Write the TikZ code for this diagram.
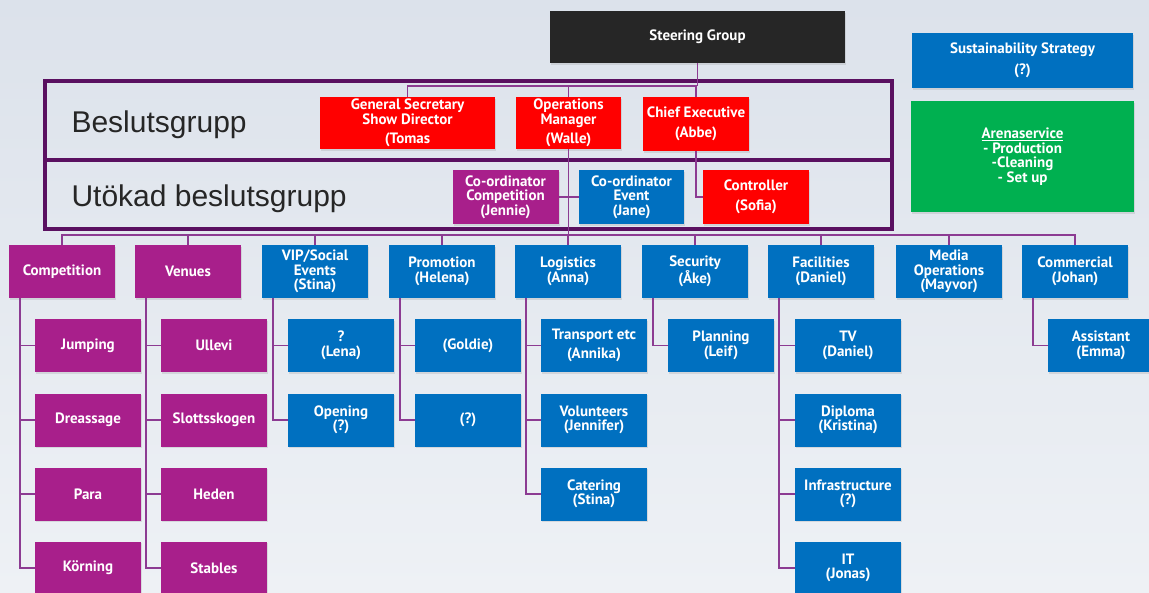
\documentclass[tikz,border=0pt]{standalone}
\usepackage{fontspec}
\setmainfont{Liberation Sans}
\newfontfamily\boxfont{PT Sans}
\usetikzlibrary{positioning,shadows}

\definecolor{bgtop}{HTML}{DCE2EB}
\definecolor{bgbot}{HTML}{EEF1F5}
\definecolor{steerblack}{HTML}{262626}
\definecolor{orgblue}{HTML}{0070C0}
\definecolor{orgpurple}{HTML}{A81F8B}
\definecolor{orgred}{HTML}{FF0000}
\definecolor{orggreen}{HTML}{00B050}
\definecolor{framepurple}{HTML}{5A1060}
\definecolor{linepurple}{HTML}{8C3B92}
\definecolor{labelgray}{HTML}{262626}

\tikzset{
  box/.style={text=white, inner sep=0pt, align=center,
    font=\boxfont\bfseries\fontsize{15}{14.5}\selectfont,
    drop shadow={opacity=0.2, shadow xshift=1pt, shadow yshift=-1.5pt}},
  unit/.style={box, minimum width=106pt, minimum height=53pt},
  blueunit/.style={unit, fill=orgblue},
  purpleunit/.style={unit, fill=orgpurple},
  redunit/.style={unit, fill=orgred},
  conn/.style={draw=linepurple, line width=1.4pt},
  grouplabel/.style={anchor=west, text=labelgray, font=\fontsize{30}{34}\selectfont}
}

\begin{document}
\begin{tikzpicture}[x=1pt, y=-1pt]
    % Background
    \clip (0,0) rectangle (1149,592);
    \fill[top color=bgtop, bottom color=bgbot] (0,0) rectangle (1149,592);

    % Decision groups
    \draw[framepurple, line width=4pt] (45,81) rectangle (892,160);
    \draw[framepurple, line width=4pt] (45,160) rectangle (892,229);
    \node[grouplabel] (beslut) at (68,125) {Beslutsgrupp};
    \node[grouplabel] (utokad) at (68,199) {Utökad beslutsgrupp};

    % Top level
    \node[box, fill=steerblack, minimum width=295pt, minimum height=52pt] (steer) at (697.5,37) {Steering Group};
    \node[box, fill=orgblue, minimum width=221pt, minimum height=55pt] (sust) at (1022.5,60.5) {Sustainability Strategy\\[6pt](?)};
    \node[box, fill=orggreen, minimum width=223pt, minimum height=111pt] (arena) at (1022.5,156.5) {\underline{Arenaservice}\\- Production\\-Cleaning\\- Set up};

    \node[redunit, minimum width=175pt, minimum height=52pt] (gensec) at (407.5,123) {General Secretary\\Show Director\\[5pt](Tomas};
    \node[redunit, minimum width=105pt, minimum height=52pt] (ops) at (568.5,123) {Operations\\Manager\\[5pt](Walle)};
    \node[redunit, minimum height=54pt] (chief) at (696,124) {Chief Executive\\[6pt](Abbe)};

    \node[purpleunit, minimum height=54pt] (coordcomp) at (505.5,197) {Co-ordinator\\Competition\\(Jennie)};
    \node[blueunit, minimum width=105pt, minimum height=54pt] (coordevent) at (631.5,197) {Co-ordinator\\Event\\(Jane)};
    \node[redunit, minimum height=54pt] (controller) at (756,197) {Controller\\[6pt](Sofia)};

    % Top connectors
    \coordinate (topbar) at (407.5,86);
    \draw[conn] (steer.south) -- (steer.south |- topbar);
    \draw[conn] (gensec.north) |- (chief.north |- topbar) -- (chief.north);
    \draw[conn] (ops.north) -- (ops.north |- topbar);
    \draw[conn] (chief.south) |- (controller.west);
    \draw[conn] (coordcomp.east) -- (coordevent.west);

    % Functions
    \node[purpleunit] (comp) at (62,271.5) {Competition};
    \node[purpleunit] (venues) at (188,271.5) {Venues};
    \node[blueunit] (vip) at (315,271.5) {VIP/Social\\Events\\(Stina)};
    \node[blueunit] (promo) at (442,271.5) {Promotion\\(Helena)};
    \node[blueunit] (logist) at (568,271.5) {Logistics\\(Anna)};
    \node[blueunit] (secur) at (695,271.5) {Security\\(Åke)};
    \node[blueunit] (facil) at (821,271.5) {Facilities\\(Daniel)};
    \node[blueunit] (media) at (949,271.5) {Media\\Operations\\(Mayvor)};
    \node[blueunit] (commerc) at (1075,271.5) {Commercial\\(Johan)};

    % Bus
    \coordinate (bus) at (62,235);
    \draw[conn] (ops.south) -- (ops.south |- bus);
    \draw[conn] (comp.north) |- (commerc.north |- bus) -- (commerc.north);
    \foreach \f in {venues,vip,promo,logist,secur,facil,media}
        \draw[conn] (\f.north) -- (\f.north |- bus);

    % Sub units
    \node[purpleunit] (jump) at (88,345.5) {Jumping};
    \node[purpleunit] (dress) at (88,420) {Dreassage};
    \node[purpleunit] (para) at (88,494) {Para};
    \node[purpleunit] (korn) at (88,568) {Körning};

    \node[purpleunit] (ullevi) at (214,345.5) {Ullevi};
    \node[purpleunit] (slott) at (214,420) {Slottsskogen};
    \node[purpleunit] (heden) at (214,494) {Heden};
    \node[purpleunit] (stables) at (214,568) {Stables};

    \node[blueunit] (lena) at (341,345.5) {?\\(Lena)};
    \node[blueunit] (opening) at (341,420) {Opening\\(?)};

    \node[blueunit] (goldie) at (468,345.5) {(Goldie)};
    \node[blueunit] (promoq) at (468,420) {(?)};

    \node[blueunit] (transp) at (594,345.5) {Transport etc\\[4pt](Annika)};
    \node[blueunit] (volunt) at (594,420) {Volunteers\\(Jennifer)};
    \node[blueunit] (cater) at (594,494) {Catering\\(Stina)};

    \node[blueunit] (plan) at (721,345.5) {Planning\\(Leif)};

    \node[blueunit] (tv) at (848,345.5) {TV\\(Daniel)};
    \node[blueunit] (diploma) at (848,420) {Diploma\\(Kristina)};
    \node[blueunit] (infra) at (848,494) {Infrastructure\\(?)};
    \node[blueunit] (it) at (848,568) {IT\\(Jonas)};

    \node[blueunit] (assist) at (1101,345.5) {Assistant\\(Emma)};

    % Sub connectors
    \foreach \c in {jump,dress,para,korn}
        \draw[conn] ([xshift=11pt]comp.south west) |- (\c.west);
    \foreach \c in {ullevi,slott,heden,stables}
        \draw[conn] ([xshift=11pt]venues.south west) |- (\c.west);
    \foreach \c in {lena,opening}
        \draw[conn] ([xshift=11pt]vip.south west) |- (\c.west);
    \foreach \c in {goldie,promoq}
        \draw[conn] ([xshift=11pt]promo.south west) |- (\c.west);
    \foreach \c in {transp,volunt,cater}
        \draw[conn] ([xshift=11pt]logist.south west) |- (\c.west);
    \draw[conn] ([xshift=11pt]secur.south west) |- (plan.west);
    \foreach \c in {tv,diploma,infra,it}
        \draw[conn] ([xshift=11pt]facil.south west) |- (\c.west);
    \draw[conn] ([xshift=11pt]commerc.south west) |- (assist.west);

\end{tikzpicture}
\end{document}
